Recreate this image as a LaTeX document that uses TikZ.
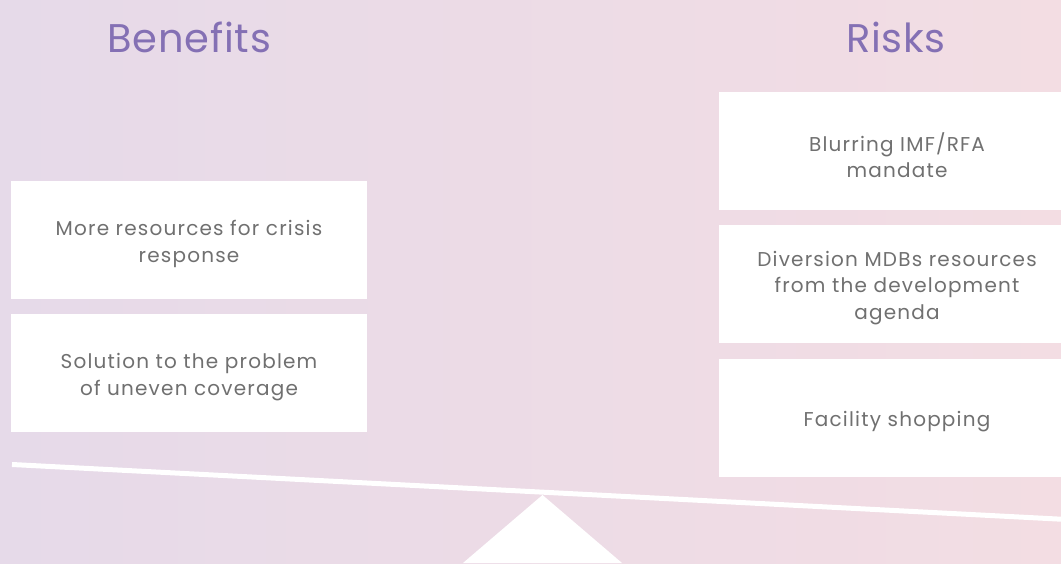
\documentclass[tikz,border=0pt]{standalone}
\usepackage{fontspec}
\setmainfont{Poppins}
\newfontfamily\boxfont[LetterSpace=6]{Poppins}
\newfontfamily\titlefont[LetterSpace=2]{Poppins}
\definecolor{bgleft}{RGB}{230,218,233}
\definecolor{bgright}{RGB}{243,221,227}
\definecolor{titlepurple}{RGB}{132,112,180}
\definecolor{boxtext}{RGB}{112,112,112}
\tikzset{
  card/.style={fill=white, draw=none, minimum width=356pt, minimum height=118pt, inner sep=0pt},
  cardtext/.style={inner sep=0pt, align=center, text=boxtext, font=\boxfont\fontsize{20}{26.5}\selectfont},
  heading/.style={text=titlepurple, font=\titlefont\fontsize{40}{48}\selectfont, inner sep=0pt}
}
\begin{document}
\begin{tikzpicture}[x=1pt,y=1pt]
\useasboundingbox (0,0) rectangle (1061,563);
\shade[left color=bgleft, right color=bgright] (0,0) rectangle (1061,563);
\node[heading] (benefits) at (189,526) {Benefits};
\node[heading] (risks) at (896,526) {Risks};
\node[card] (b1) at (189,323) {};
\node[card] (b2) at (189,190) {};
\node[card] (r1) at (897,412) {};
\node[card] (r2) at (897,279) {};
\node[card] (r3) at (897,145) {};
\node[cardtext] (b1t) at ([yshift=-4pt]b1.center) {More resources for crisis\\response};
\node[cardtext] (b2t) at ([yshift=-4pt]b2.center) {Solution to the problem\\of uneven coverage};
\node[cardtext] (r1t) at ([yshift=-4pt]r1.center) {Blurring IMF/RFA\\mandate};
\node[cardtext] (r2t) at ([yshift=-4pt]r2.center) {Diversion MDBs resources\\from the development\\agenda};
\node[cardtext] (r3t) at ([yshift=-4pt]r3.center) {Facility shopping};
\coordinate (beamL) at (12,98.5);
\coordinate (beamR) at (1061,43.8);
\coordinate (apex) at (542.5,68);
\coordinate (baseL) at (463,0);
\coordinate (baseR) at (622,0);
\fill[white] (apex) -- (baseR) -- (baseL) -- cycle;
\draw[white, line width=5pt] (beamL) -- (beamR);
\end{tikzpicture}
\end{document}
